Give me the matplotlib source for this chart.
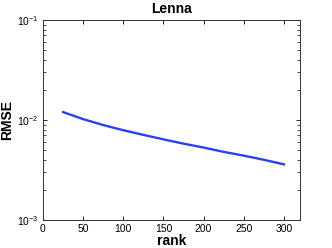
import numpy as np
import matplotlib
matplotlib.use("Agg")
import matplotlib.pyplot as plt
from matplotlib.ticker import LogLocator, NullFormatter

# values
rank = [25, 50, 75, 100, 125, 150, 175, 200, 225, 250, 275, 300]
rmse = [0.0120, 0.0102, 0.0089, 0.0079, 0.0071, 0.0064, 0.0058, 0.0053, 0.0048, 0.0044, 0.0040, 0.0036]
xticks = [0, 50, 100, 150, 200, 250, 300]

plt.rcParams["font.family"] = ["Liberation Sans", "DejaVu Sans"]

fig = plt.figure(figsize=(3.32, 2.48), dpi=100)
ax = fig.add_axes([43 / 332, 28 / 248, 257 / 332, 200 / 248])

ax.semilogy(rank, rmse, color="#2b3ff5", linewidth=1.7)

ax.set_xlim(0, 320)
ax.set_ylim(1e-3, 1e-1)
ax.set_xticks(xticks)
ax.yaxis.set_major_locator(LogLocator(base=10))
ax.yaxis.set_minor_locator(LogLocator(base=10, subs=np.arange(2, 10)))
ax.yaxis.set_minor_formatter(NullFormatter())

ax.tick_params(which="both", direction="in", top=True, right=True, labelsize=7.5, pad=3)
ax.tick_params(which="major", length=3, width=0.6)
ax.tick_params(which="minor", length=2, width=0.5)
for s in ax.spines.values():
    s.set_linewidth(0.7)
    s.set_color("#333333")

ax.set_title("Lenna", fontsize=10, fontweight="bold", pad=5)
ax.set_xlabel("rank", fontsize=10, fontweight="bold", labelpad=0)
ax.set_ylabel("RMSE", fontsize=10, fontweight="bold", labelpad=2)

plt.savefig("out.png", dpi=100)
